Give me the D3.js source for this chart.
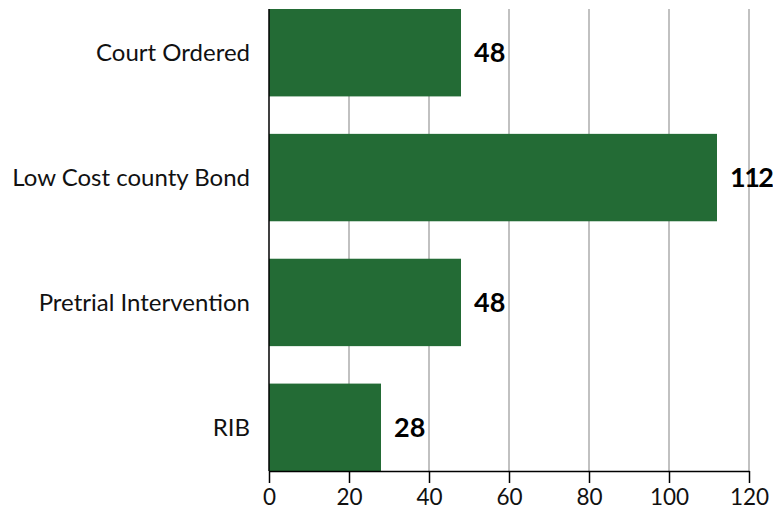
<!DOCTYPE html>
<html><head><meta charset="utf-8">
<script src="https://cdn.jsdelivr.net/npm/d3@7"></script>
<style>body{margin:0;background:#fff}svg{display:block}</style>
</head><body>
<script>
const categories = ["Court Ordered","Low Cost county Bond","Pretrial Intervention","RIB"];
const values = [48,112,48,28];
const xTicks = [0,20,40,60,80,100,120];

(function(){
const W=773,H=515, mLeft=269, mRight=749, mTop=9, mBottom=471;
const svg=d3.select("body").append("svg").attr("width",W).attr("height",H);
const x=d3.scaleLinear().domain([0,120]).range([mLeft,mRight]);
const y=d3.scaleBand().domain(categories).range([mTop,mBottom]).paddingInner(0.3).paddingOuter(0);
const font="Lato, 'Noto Sans', sans-serif";

svg.append("g").selectAll("line").data(xTicks.slice(1)).join("line")
 .attr("x1",d=>x(d)).attr("x2",d=>x(d)).attr("y1",mTop).attr("y2",mBottom)
 .attr("stroke","#a0a0a0").attr("stroke-width",1.3);

svg.append("g").selectAll("rect").data(values).join("rect")
 .attr("x",x(0)).attr("y",(d,i)=>y(categories[i])).attr("width",d=>x(d)-x(0))
 .attr("height",y.bandwidth()).attr("fill","#236b35");

const ax=svg.append("g").attr("transform",`translate(0,${mBottom})`)
 .call(d3.axisBottom(x).tickValues(xTicks).tickSize(12).tickPadding(6).tickSizeOuter(0));
ax.select(".domain").attr("stroke","#000").attr("stroke-width",1.5);
ax.selectAll(".tick line").attr("stroke","#000").attr("stroke-width",1.5);
ax.selectAll("text").attr("font-family",font).attr("font-size",22.5).attr("fill","#111");

svg.append("line").attr("x1",mLeft).attr("x2",mLeft).attr("y1",mTop).attr("y2",mBottom)
 .attr("stroke","#000").attr("stroke-width",1.5);

svg.append("g").selectAll("text").data(categories).join("text")
 .attr("x",mLeft-19).attr("y",d=>y(d)+y.bandwidth()/2).attr("dy","0.35em")
 .attr("text-anchor","end").attr("font-family",font).attr("font-size",24).attr("fill","#111")
 .text(d=>d);

svg.append("g").selectAll("text").data(values).join("text")
 .attr("x",d=>x(d)+13).attr("y",(d,i)=>y(categories[i])+y.bandwidth()/2).attr("dy","0.36em")
 .attr("font-family",font).attr("font-size",27).attr("font-weight","bold").attr("fill","#000")
 .attr("letter-spacing",d=>d>=100?-1.5:0)
 .text(d=>d);
})();
</script>
</body></html>
